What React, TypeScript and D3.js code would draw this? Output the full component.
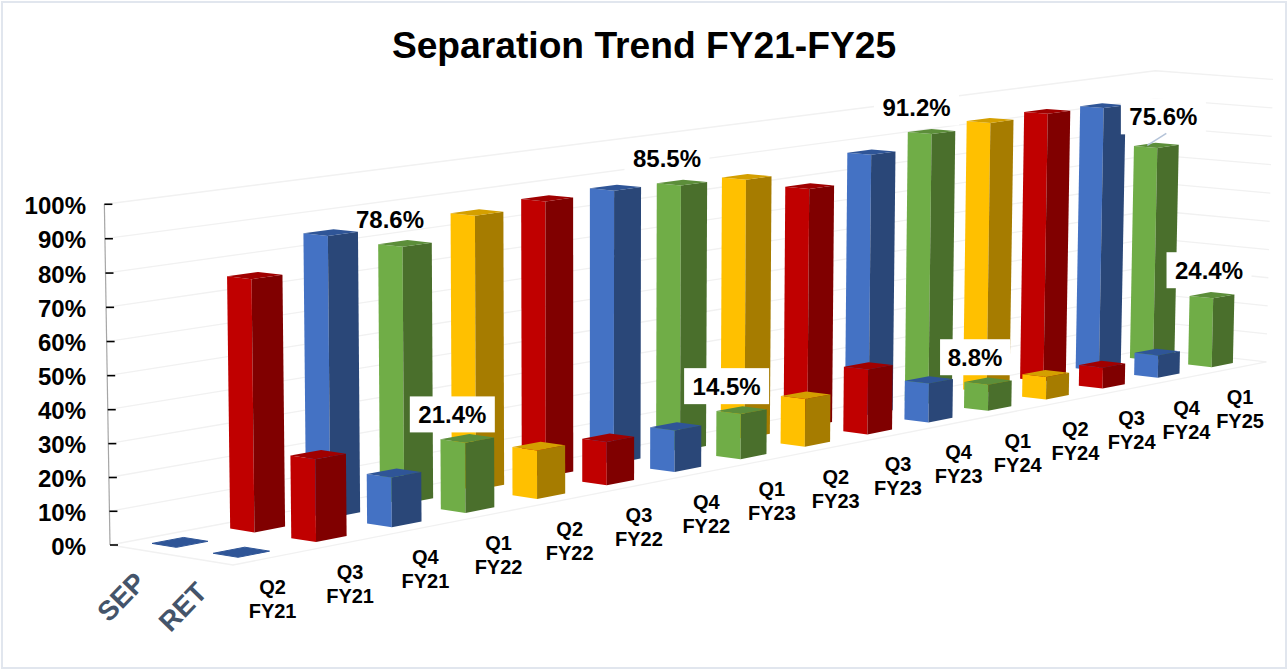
import React from 'react';
import * as d3 from 'd3';

const width = 1288;
const height = 670;

const categories = ['Q2 FY21', 'Q3 FY21', 'Q4 FY21', 'Q1 FY22', 'Q2 FY22', 'Q3 FY22', 'Q4 FY22', 'Q1 FY23',
  'Q2 FY23', 'Q3 FY23', 'Q4 FY23', 'Q1 FY24', 'Q2 FY24', 'Q3 FY24', 'Q4 FY24', 'Q1 FY25'];
const seriesNames = ['RET', 'SEP']; // front row first
const sepValues = [0, 75.4, 85, 78.6, 85, 86.4, 86.8, 85.5, 84.5, 78.6, 87, 91.2, 92.3, 92.8, 92.2, 75.6];
const retValues = [0, 24.6, 15, 21.4, 15, 13.6, 13.2, 14.5, 15.5, 21.4, 13, 8.8, 7.7, 7.2, 7.8, 24.4];
const colorNames = ['blue', 'red', 'blue', 'green', 'yellow', 'red', 'blue', 'green', 'yellow', 'red', 'blue',
  'green', 'yellow', 'red', 'blue', 'green'];

// left face, front face, top face
const palette: Record<string, string[]> = {
  red: ['#C00000', '#800000', '#A00000'],
  blue: ['#4472C4', '#2A4778', '#2F5597'],
  green: ['#70AD47', '#4A6F2C', '#5C8E3A'],
  yellow: ['#FFC000', '#A67C00', '#D49F00'],
};

// only the quarters that carry a value label
const labelled = ['Q1 FY22', 'Q1 FY23', 'Q1 FY24', 'Q1 FY25'];

// D3 scales into the chart's own 3d units
const xBand = d3.scaleBand<string>().domain(categories).range([0, 16]).paddingInner(0.6).paddingOuter(0.3);
const zBand = d3.scaleBand<string>().domain(seriesNames).range([0, 2]).paddingInner(0.6).paddingOuter(0.3);
const yScale = d3.scaleLinear().domain([0, 100]).range([0, 1]);

// perspective camera, fitted to the picture
function project(x: number, z: number, y: number): [number, number] {
  const w = 1 + 0.0147 * x + 0.01 * z - 0.012 * y;
  const u = 233 + 83.2 * x - 60.4 * z - 7 * y;
  const v = 565 - 7.37 * x - 4.55 * z - 350 * y;
  return [u / w, v / w];
}

const line = d3.line();
const poly = (pts: [number, number, number][]) => line(pts.map((p) => project(p[0], p[1], p[2]))) + 'Z';

function Bar({ cat, series, value, color }: { cat: string; series: string; value: number; color: string }) {
  const x0 = xBand(cat)!;
  const x1 = x0 + xBand.bandwidth();
  const z0 = zBand(series)!;
  const z1 = z0 + zBand.bandwidth();
  const y = yScale(value);
  const c = palette[color];
  return (
    <g>
      <path d={poly([[x0, z0, 0], [x0, z1, 0], [x0, z1, y], [x0, z0, y]])} fill={c[0]} />
      <path d={poly([[x0, z0, 0], [x1, z0, 0], [x1, z0, y], [x0, z0, y]])} fill={c[1]} />
      <path d={poly([[x0, z0, y], [x1, z0, y], [x1, z1, y], [x0, z1, y]])} fill={c[2]}
        stroke={c[2]} strokeWidth={value === 0 ? 1 : 0} />
    </g>
  );
}

function ValueLabel({ cat, series, value }: { cat: string; series: string; value: number }) {
  const [px, py] = project(xBand(cat)! + xBand.bandwidth() / 2, zBand(series)! + zBand.bandwidth() / 2, yScale(value));
  // labels sit up-left of the bar top, the last quarter was moved by hand
  let cx = px - 15;
  let cy = py - 24;
  if (cat === 'Q1 FY25') {
    cx = series === 'SEP' ? px + 7 : px - 3;
    cy = series === 'SEP' ? py - 29 : py - 25;
  }
  if (cat === 'Q1 FY24' && series === 'RET') cx += 2;
  const txt = value.toFixed(1) + '%';
  const bw = txt.length > 4 ? 85 : 70;
  // the first SEP label has no box, it would cut into the blue bar beside it
  const hasBox = !(cat === 'Q1 FY22' && series === 'SEP');
  return (
    <g>
      {hasBox && <rect x={cx - bw / 2} y={cy - 18} width={bw} height={36} fill="#fff" />}
      <text x={cx} y={cy} textAnchor="middle" dominantBaseline="central" fontSize={24} fontWeight="bold" fill="#000">{txt}</text>
    </g>
  );
}

export default function App() {
  const ticks = d3.range(0, 101, 10);
  const fmt = (d: number) => d + '%';

  const drawOrder = d3.range(categories.length).reverse();
  const sepLeader = project(xBand('Q1 FY25')! + 0.14, 1.6, yScale(sepValues[15]));

  return (
    <svg width={width} height={height} viewBox={`0 0 ${width} ${height}`}
      style={{ position: 'absolute', left: 0, top: 0, fontFamily: '"Liberation Sans", Arial, sans-serif' }}>
      <rect x={2} y={2} width={width - 4} height={height - 4} fill="#fff" stroke="#E1E6EE" strokeWidth={2} />

      <text x={644} y={45} textAnchor="middle" dominantBaseline="central" fontSize={37.2} fontWeight="bold" fill="#000">
        Separation Trend FY21-FY25
      </text>

      {/* walls and floor */}
      {ticks.map((t) => (
        <path key={t} fill="none" stroke="#F1F1F1" strokeWidth={1.3}
          d={line([project(0, 2, yScale(t)), project(16, 2, yScale(t)), project(16, 0, yScale(t))])!} />
      ))}
      <path fill="none" stroke="#F1F1F1" strokeWidth={1.3}
        d={line([project(0, 2, 0), project(0, 0, 0), project(16, 0, 0)])!} />

      {/* value axis */}
      <path fill="none" stroke="#A6A6A6" strokeWidth={1.2} d={line([project(0, 2, 0), project(0, 2, 1)])!} />
      {ticks.map((t) => {
        const [ax, ay] = project(0, 2, yScale(t));
        return (
          <g key={t}>
            <line x1={ax} x2={ax + 8} y1={ay} y2={ay} stroke="#000" strokeWidth={1.6} />
            <text x={86} y={ay + 1} textAnchor="end" dominantBaseline="central" fontSize={24} fontWeight="bold" fill="#000">{fmt(t)}</text>
          </g>
        );
      })}

      {/* bars, back row first and far end first */}
      {drawOrder.map((i) => (
        <Bar key={'s' + i} cat={categories[i]} series="SEP" value={sepValues[i]} color={colorNames[i]} />
      ))}
      {drawOrder.map((i) => (
        <Bar key={'r' + i} cat={categories[i]} series="RET" value={retValues[i]} color={colorNames[i]} />
      ))}

      {/* category labels */}
      {categories.map((c) => {
        const [lx, ly] = project(xBand(c)! + xBand.bandwidth() / 2, 0, 0);
        const parts = c.split(' ');
        return (
          <g key={c} fontSize={20} fontWeight="bold" fill="#000" textAnchor="middle">
            <text x={lx} y={ly + 30} dominantBaseline="central">{parts[0]}</text>
            <text x={lx} y={ly + 54} dominantBaseline="central">{parts[1]}</text>
          </g>
        );
      })}

      {/* series labels */}
      {seriesNames.map((s) => {
        const [lx, ly] = project(0, zBand(s)! + zBand.bandwidth() / 2, 0);
        return (
          <text key={s} transform={`translate(${lx - 19},${ly + 47}) rotate(-46)`} textAnchor="middle" dominantBaseline="central"
            fontSize={27.5} fontWeight="bold" fill="#44546A">{s}</text>
        );
      })}

      {/* value labels */}
      {labelled.map((c) => {
        const i = categories.indexOf(c);
        return (
          <g key={c}>
            <ValueLabel cat={c} series="SEP" value={sepValues[i]} />
            <ValueLabel cat={c} series="RET" value={retValues[i]} />
          </g>
        );
      })}
      <line x1={sepLeader[0]} y1={sepLeader[1]} x2={sepLeader[0] + 19} y2={sepLeader[1] - 12} stroke="#B4C3D8" strokeWidth={1.5} />
    </svg>
  );
}
